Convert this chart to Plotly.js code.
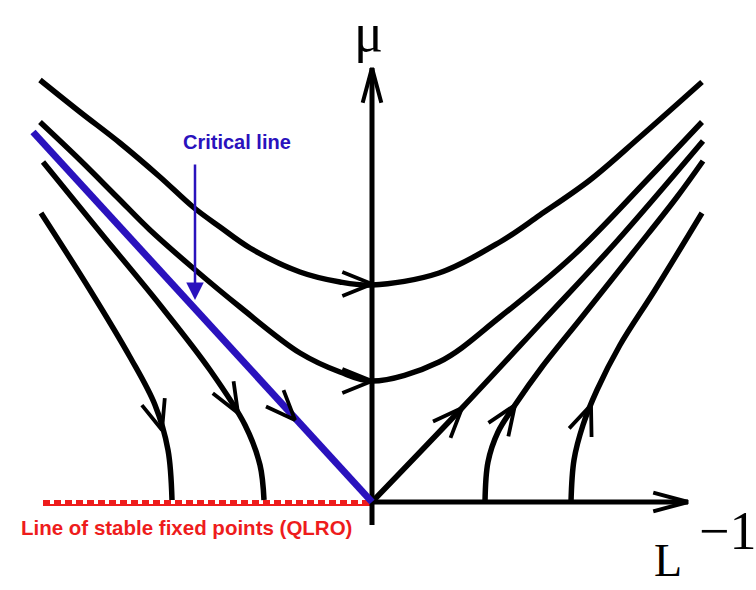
<!DOCTYPE html>
<html>
<head>
<meta charset="utf-8">
<script src="https://cdn.plot.ly/plotly-3.0.1.min.js"></script>
<style>html,body{margin:0;padding:0;background:#fff;}#chart{width:756px;height:590px;}</style>
</head>
<body>
<div id="chart"></div>
<script>
// Flow lines (x = L^-1, y = mu, origin at the axes crossing)
const flowA_x = [-332,-292,-252,-212,-179,-152,-122,-72,-32,0,67,128,168,218,268,330];
const flowA_y = [422,390,359,325,295,275,254,230,220,217,229,260,287,322,365,420];
const flowB_x = [-332,-292,-255,-222,-179,-132,-72,-32,0,67,128,203,275,330];
const flowB_y = [380,342,305,272,234,195,149,130,121,140,185,248,322,380];
const flowS_x = [0,90,170,245,331];
const flowS_y = [0,94,180,261,361];
const flowR1_x = [113,116,126,143,170,210,260,305,331];
const flowR1_y = [0,40,70,97,135,185,248,305,341];
const flowR2_x = [199,202,211,225,248,283,330];
const flowR2_y = [0,42,77,112,157,212,289];
const flowL1_x = [-331,-282,-242,-217,-204,-200];
const flowL1_y = [289,212,145,97,52,2];
const flowL2_x = [-329,-272,-212,-162,-127,-112,-108];
const flowL2_y = [340,270,197,132,77,37,2];
const critical_x = [-339,0];
const critical_y = [370,0];
const fixedLine_x = [-329,0];
const fixedLine_y = [-1,-1];
// Flow-direction arrowheads: tip positions and travel direction (degrees)
const arrowTipX = [0,0,-210,-134,-77,90,143,219];
const arrowTipY = [218,121,72,89,82,94,97,97];
const arrowDir  = [0,0,-73,-60,-47,47,56,69];
// Axes
const axisTop = 434, axisRight = 316, axisBottom = -23;

function chevrons(xs, ys, dirs, len, half) {
  const X = [], Y = [];
  for (let i = 0; i < xs.length; i++) {
    const back = (dirs[i] + 180) * Math.PI / 180, h = half * Math.PI / 180;
    X.push(xs[i] + len * Math.cos(back + h), xs[i], xs[i] + len * Math.cos(back - h), null);
    Y.push(ys[i] + len * Math.sin(back + h), ys[i], ys[i] + len * Math.sin(back - h), null);
  }
  return {x: X, y: Y};
}

const black = '#000000', blue = '#2a12bd', red = '#ee1c1c';
const curve = (x, y) => ({x, y, mode: 'lines', line: {color: black, width: 5.5, shape: 'spline', smoothing: 1}, hoverinfo: 'skip'});

const flowHeads = chevrons(arrowTipX, arrowTipY, arrowDir, 32, 22);
const axisHeads = chevrons([0, axisRight], [axisTop, 0], [90, 0], 36, 15);

const traces = [
  {x: fixedLine_x, y: [fixedLine_y[0]-2, fixedLine_y[1]-2], mode: 'lines', line: {color: red, width: 2}, hoverinfo: 'skip'},
  {x: fixedLine_x, y: fixedLine_y, mode: 'lines', line: {color: red, width: 6, dash: '7px,4px'}, hoverinfo: 'skip'},
  {x: [0, 0], y: [axisBottom, axisTop], mode: 'lines', line: {color: black, width: 5}, hoverinfo: 'skip'},
  {x: [0, axisRight], y: [0, 0], mode: 'lines', line: {color: black, width: 5}, hoverinfo: 'skip'},
  {x: axisHeads.x, y: axisHeads.y, mode: 'lines', line: {color: black, width: 4}, hoverinfo: 'skip'},
  curve(flowA_x, flowA_y),
  curve(flowB_x, flowB_y),
  curve(flowS_x, flowS_y),
  curve(flowR1_x, flowR1_y),
  curve(flowR2_x, flowR2_y),
  curve(flowL1_x, flowL1_y),
  curve(flowL2_x, flowL2_y),
  {x: critical_x, y: critical_y, mode: 'lines', line: {color: blue, width: 7}, hoverinfo: 'skip'},
  {x: flowHeads.x, y: flowHeads.y, mode: 'lines', line: {color: black, width: 3.8}, hoverinfo: 'skip'}
];

const layout = {
  width: 756, height: 590,
  margin: {l: 0, r: 0, t: 0, b: 0},
  paper_bgcolor: '#ffffff', plot_bgcolor: '#ffffff',
  showlegend: false,
  xaxis: {range: [-372, 384], visible: false, fixedrange: true},
  yaxis: {range: [-88, 502], visible: false, fixedrange: true},
  annotations: [
    {x: -4, y: 501, xref: 'x', yref: 'y', yanchor: 'top', text: 'μ', showarrow: false,
     font: {family: 'Liberation Serif, DejaVu Serif, serif', size: 54, color: black}},
    {x: 280, y: -58, xref: 'x', yref: 'y', xanchor: 'left', text: 'L', showarrow: false,
     font: {family: 'Liberation Serif, DejaVu Serif, serif', size: 46, color: black}},
    {x: 325, y: -29, xref: 'x', yref: 'y', xanchor: 'left', text: '−1', showarrow: false,
     font: {family: 'Liberation Serif, DejaVu Serif, serif', size: 54, color: black}},
    {x: -135, y: 360, xref: 'x', yref: 'y', text: 'Critical line', showarrow: false,
     font: {family: 'Liberation Sans, Arial, sans-serif', size: 20, weight: 'bold', color: blue}},
    {x: -186, y: -25, xref: 'x', yref: 'y', text: 'Line of stable fixed points (QLRO)', showarrow: false,
     font: {family: 'Liberation Sans, Arial, sans-serif', size: 20.5, weight: 'bold', color: red}},
    {x: -177, y: 202, ax: -177, ay: 339, xref: 'x', yref: 'y', axref: 'x', ayref: 'y',
     text: '', showarrow: true, arrowhead: 2, arrowsize: 1.4, arrowwidth: 2.5, arrowcolor: blue, standoff: 0}
  ]
};

Plotly.newPlot('chart', traces, layout, {displayModeBar: false, staticPlot: true});
</script>
</body>
</html>
